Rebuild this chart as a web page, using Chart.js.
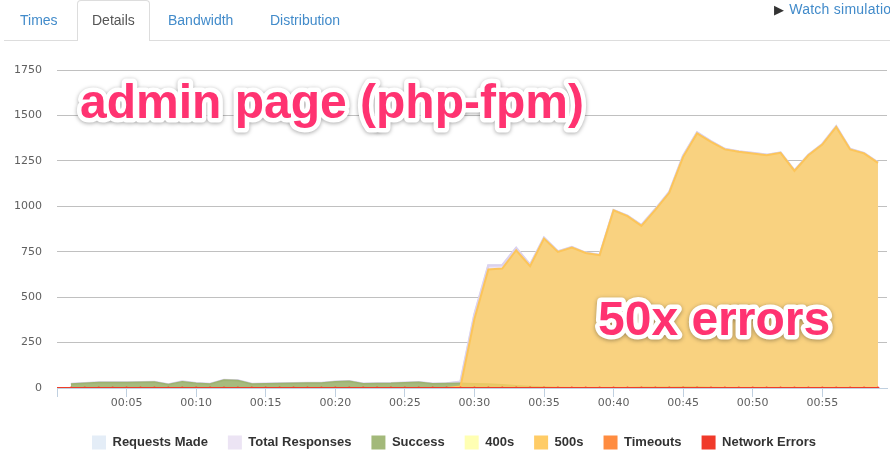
<!DOCTYPE html>
<html>
<head>
<meta charset="utf-8">
<script src="https://cdn.jsdelivr.net/npm/chart.js@4.4.1/dist/chart.umd.min.js"></script>
<style>
  html, body { margin:0; padding:0; width:890px; height:469px; overflow:hidden; background:#fff; font-family:"Liberation Sans", Arial, sans-serif; }
  #wrap { position:relative; width:890px; height:469px; overflow:hidden; }
  #chart { position:absolute; left:0; top:0; }
  .tabs { position:absolute; left:4px; top:0; width:886px; height:40px; border-bottom:1px solid #ddd; }
  .tab { position:absolute; top:0; height:40px; line-height:40px; font-size:14px; color:#428bca; white-space:nowrap; }
  .tab.active { box-sizing:border-box; height:41px; border:1px solid #ddd; border-bottom:none; border-radius:4px 4px 0 0; background:#fff; color:#555; padding:0 14px; line-height:39px; }
  .watch { position:absolute; left:774px; top:0; height:18px; line-height:18px; font-size:14px; letter-spacing:0.25px; color:#428bca; white-space:nowrap; }
  .watch .tri { color:#333; font-size:13px; margin-right:5px; }
</style>
</head>
<body>
<div id="wrap">
  <canvas id="chart" width="890" height="469"></canvas>
  <div class="tabs">
    <div class="tab" style="left:16px">Times</div>
    <div class="tab active" style="left:73px">Details</div>
    <div class="tab" style="left:164px">Bandwidth</div>
    <div class="tab" style="left:266px">Distribution</div>
  </div>
  <div class="watch"><span class="tri">&#9654;</span>Watch simulation</div>
</div>
<script>
// ---- data (seconds of the test) ----
const seconds = [0,1,2,3,4,5,6,7,8,9,10,11,12,13,14,15,16,17,18,19,20,21,22,23,24,25,26,27,28,29,30,31,32,33,34,35,36,37,38,39,40,41,42,43,44,45,46,47,48,49,50,51,52,53,54,55,56,57,58,59];

const requestsMadeVals = [null,22,26,30,30,30,31,33,19,35,26,22,44,41,22,24,25,26,27,28,34,37,24,25,26,29,31,24,25,34,404,674,675,770,678,827,752,775,744,732,979,948,896,984,1078,1278,1406,1358,1315,1302,1293,1283,1296,1197,1283,1342,1439,1315,1293,1241];

const totalResponsesVals = [null,22,26,30,30,30,31,33,19,35,26,22,44,41,22,24,25,26,27,28,34,37,24,25,26,29,31,24,25,34,404,674,675,770,678,827,752,775,744,732,979,948,896,984,1078,1278,1406,1358,1315,1302,1293,1283,1296,1197,1283,1342,1439,1315,1293,1241];

const successVals = [null,22,26,30,30,30,31,33,19,35,26,22,44,41,22,24,25,26,27,28,34,37,24,25,26,29,31,24,25,26,24,22,18,12,8,5,3,2,1,1,1,2,4,4,4,6,5,3,2,2,2,2,2,2,2,2,2,2,2,2];

const err400Vals = [null,0,0,0,0,0,0,0,0,0,0,0,0,0,0,0,0,0,0,0,0,0,0,0,0,0,0,0,0,0,0,0,0,0,0,0,0,0,0,0,0,0,0,0,0,0,0,0,0,0,0,0,0,0,0,0,0,0,0,0];

const err500Vals = [null,0,0,0,0,0,0,0,0,0,0,0,0,0,0,0,0,0,0,0,0,0,0,0,0,0,0,0,0,8,380,652,657,758,670,822,749,773,743,731,978,946,892,980,1074,1272,1401,1355,1313,1300,1291,1281,1294,1195,1281,1340,1437,1313,1291,1239];

const timeoutVals = [0,0,0,0,0,0,0,0,0,0,0,0,0,0,0,0,0,0,0,0,0,0,0,0,0,0,0,0,0,0,0,0,0,0,0,0,0,0,0,0,0,0,0,0,0,0,0,0,0,0,0,0,0,0,0,0,0,0,0,0];

const networkErrorVals = [0,0,0,0,0,0,0,0,0,0,0,0,0,0,0,0,0,0,0,0,0,0,0,0,0,0,0,0,0,0,0,0,0,0,0,0,0,0,0,0,0,0,0,0,0,0,0,0,0,0,0,0,0,0,0,0,0,0,0,0];

const seriesNames = ['Requests Made','Total Responses','Success','400s','500s','Timeouts','Network Errors'];
const yTicks = [0,250,500,750,1000,1250,1500,1750];
const yTickLabels = ['0','250','500','750','1000','1250','1500','1750'];
const xTickLabels = ['','00:05','00:10','00:15','00:20','00:25','00:30','00:35','00:40','00:45','00:50','00:55'];
const annotationTexts = ['admin page (php-fpm)', '50x errors'];

// ---- styles ----
const legendColors = ['#e4edf7','#ece4f4','#a3b97a','#ffffb3','#ffcc66','#ff8c40','#f03a2a'];
const lineColors   = ['#d6e3f2','#dcd2ee','#9db371','#ffff99','#fcc55a','#ff8c3a','#f03c28'];
const fillColors   = ['rgba(229,238,248,1)','rgba(238,230,245,1)','rgba(154,179,103,0.85)','rgba(255,255,170,0.75)','rgba(251,205,99,0.8)','rgba(255,140,58,0.8)','rgba(240,60,40,0.8)'];
const lineWidths   = [2,2.5,1.5,2,2,2,2];
const drawOrder    = [6,5,4,3,2,1,0];

const valueSets = [requestsMadeVals,totalResponsesVals,successVals,err400Vals,err500Vals,timeoutVals,networkErrorVals];

const datasets = seriesNames.map((name, k) => ({
  label: name,
  data: seconds.map((s, i) => ({ x: s, y: valueSets[k][i] })),
  borderColor: lineColors[k],
  backgroundColor: fillColors[k],
  borderWidth: lineWidths[k],
  fill: 'origin',
  tension: 0,
  spanGaps: false,
  order: drawOrder[k],
  pointRadius: k === 6 ? (c => c.dataIndex === 0 ? 0 : 1.6) : 0,
  pointBackgroundColor: lineColors[k],
  pointBorderWidth: 0,
  pointHoverRadius: 0
}));

// let the y-axis labels use the space to the left of the axis box
const widenYLabels = {
  id: 'widenYLabels',
  afterLayout(chart) { chart.scales.y.left = 0; }
};

const overlayText = {
  id: 'overlayText',
  afterDraw(chart) {
    const ctx = chart.ctx;
    const spots = [[80, 118], [598, 335]];
    annotationTexts.forEach((t, i) => {
      ctx.save();
      ctx.font = 'bold 48px "Liberation Sans", Arial, sans-serif';
      ctx.textAlign = 'left';
      ctx.textBaseline = 'alphabetic';
      ctx.lineJoin = 'round';
      ctx.shadowColor = 'rgba(0,0,0,0.35)';
      ctx.shadowBlur = 4;
      ctx.shadowOffsetY = 1;
      ctx.strokeStyle = '#ffffff';
      ctx.lineWidth = 9;
      ctx.strokeText(t, spots[i][0], spots[i][1]);
      ctx.shadowColor = 'transparent';
      ctx.fillStyle = '#ff3371';
      ctx.fillText(t, spots[i][0], spots[i][1]);
      ctx.restore();
    });
  }
};

new Chart(document.getElementById('chart'), {
  type: 'line',
  data: { datasets },
  plugins: [widenYLabels, overlayText],
  options: {
    responsive: false,
    animation: false,
    events: [],
    layout: { padding: { left: 21, right: 3, top: 70, bottom: 9.5 } },
    plugins: {
      tooltip: { enabled: false },
      legend: {
        position: 'bottom',
        labels: {
          boxWidth: 14,
          boxHeight: 14,
          padding: 20,
          color: '#333',
          font: { family: '"Liberation Sans", Arial, sans-serif', size: 13, weight: 'bold' },
          generateLabels(chart) {
            return chart.data.datasets.map((d, i) => ({
              text: d.label,
              fillStyle: legendColors[i],
              strokeStyle: legendColors[i],
              lineWidth: 0,
              fontColor: '#333',
              hidden: false,
              datasetIndex: i
            }));
          }
        }
      }
    },
    scales: {
      x: {
        type: 'linear',
        min: 0,
        max: 59.65,
        afterFit(scale) { scale.height = 27.5; },
        border: { display: true, color: '#c0d0e0', width: 1 },
        grid: { drawOnChartArea: false, drawTicks: true, tickLength: 9, color: '#c0d0e0' },
        ticks: {
          stepSize: 5,
          includeBounds: false,
          autoSkip: false,
          maxRotation: 0,
          padding: 0,
          color: '#606060',
          font: { family: '"DejaVu Sans", sans-serif', size: 11 },
          callback(v) { const i = Math.round(v / 5); return (v % 5 === 0 && i < xTickLabels.length) ? xTickLabels[i] : ''; }
        }
      },
      y: {
        min: 0,
        max: 1750,
        afterFit(scale) { scale.width = 36; },
        border: { display: false },
        grid: { color: '#c0c0c0', drawTicks: false, lineWidth: 1 },
        afterBuildTicks(scale) { scale.ticks = yTicks.map(v => ({ value: v })); },
        ticks: {
          padding: 15,
          color: '#606060',
          font: { family: '"DejaVu Sans", sans-serif', size: 11 },
          callback(v) { const i = yTicks.indexOf(v); return i >= 0 ? yTickLabels[i] : ''; }
        }
      }
    }
  }
});
</script>
</body>
</html>
